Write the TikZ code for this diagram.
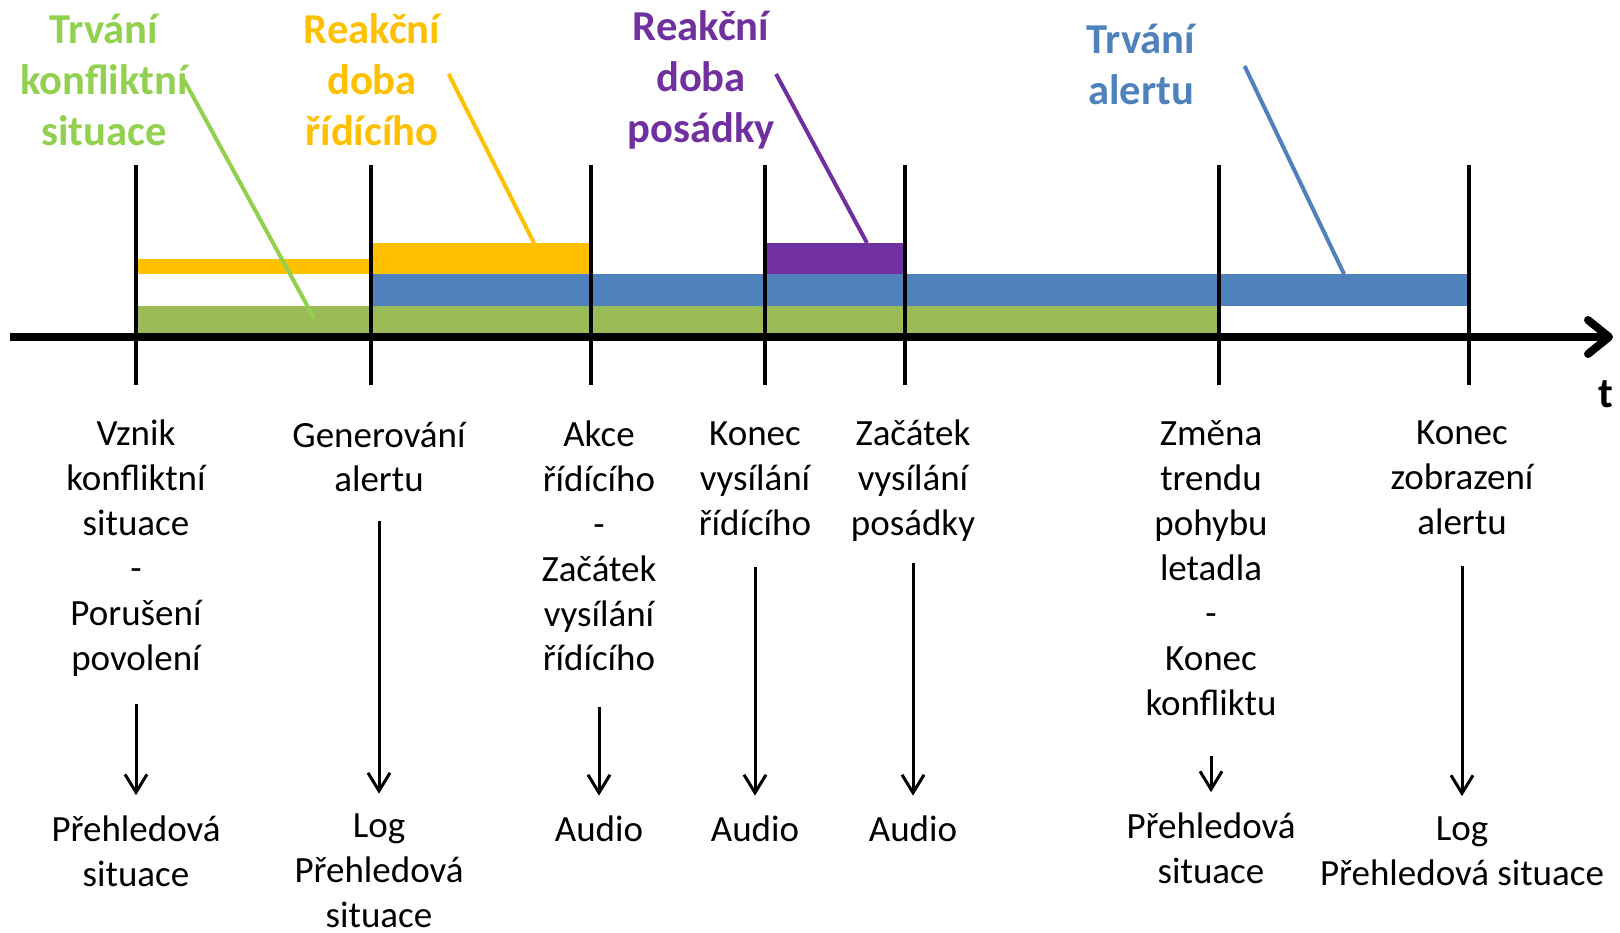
\documentclass[tikz,border=0pt]{standalone}
\usepackage{fontspec}
\setmainfont{Carlito}
\usepackage{xcolor}
\usepackage{tikz}
\usetikzlibrary{
		arrows.meta,
		positioning
	}
\definecolor{conflict-green}{HTML}{9BBB59}
\definecolor{label-green}{HTML}{92D050}
\definecolor{alert-blue}{HTML}{4F81BD}
\definecolor{atco-orange}{HTML}{FFC000}
\definecolor{crew-purple}{HTML}{7030A0}
\tikzset{%
		every text node part/.style = {
			align = center
		},
		event/.style = {
			font = \fontsize{18.5}{22.45}\selectfont,
			inner sep = 0pt
		},
		phase/.style = {
			font = \fontsize{21.3}{25.5}\selectfont\bfseries,
			inner sep = 0pt
		},
		timemark/.style = {
			line width = 2pt
		},
		leader/.style = {
			line width = 2pt
		},
		outarrow/.style = {
			-{Straight Barb[length=9pt,width=11pt]},
			line width = 1.5pt,
			shorten > = 10pt
		}
	}

\begin{document}
\begin{tikzpicture}[x=0.5pt, y=-0.5pt]
		\useasboundingbox (0, 0) rectangle (1620, 932);

		% bars
		\fill [conflict-green] (136, 306) rectangle (1219, 333);
		\fill [alert-blue] (371, 274) rectangle (1469, 306);
		\fill [atco-orange] (136, 259) rectangle (371, 274);
		\fill [atco-orange] (371, 243) rectangle (591, 274);
		\fill [crew-purple] (765, 243) rectangle (905, 274);

		% time axis
		\coordinate (axisstart) at (10, 337);
		\coordinate (axisend) at (1613, 337);
		\draw [
			line width = 4pt,
			-{Straight Barb[length=10.5pt,width=17pt,round]}
		] (axisstart) -- (axisend);
		\node [phase] (timelabel) at (1606, 394) {t};

		\foreach \x in {136, 371, 591, 765, 905, 1219, 1469}
			\draw [timemark] (\x, 165) -- (\x, 385);

		% phase labels
		\node [phase, text = label-green] (greenlabel) at (104, 80) {Trvání\\konfliktní\\situace};
		\node [phase, text = atco-orange] (orangelabel) at (372, 80) {Reakční\\doba\\řídícího};
		\node [phase, text = crew-purple] (purplelabel) at (701, 80) {Reakční\\doba\\posádky};
		\node [phase, text = alert-blue] (bluelabel) at (1141, 64) {Trvání\\alertu};

		\coordinate (greenbar) at (314, 318);
		\coordinate (orangebar) at (534, 243);
		\coordinate (purplebar) at (867, 243);
		\coordinate (bluebar) at (1344, 274);

		\draw [leader, label-green] ([xshift=-2pt]greenlabel.east) -- (greenbar);
		\draw [leader, atco-orange] ([xshift=4pt, yshift=3pt]orangelabel.east) -- (orangebar);
		\draw [leader, crew-purple] ([xshift=0.5pt, yshift=3pt]purplelabel.east) -- (purplebar);
		\draw [leader, alert-blue] ([xshift=24.5pt, yshift=-1pt]bluelabel.east) -- (bluebar);

		% events
		\node [event] (ev1) at (136, 548) {Vznik\\konfliktní\\situace\\-\\Porušení\\povolení};
		\node [event] (ev2) at (379, 457) {Generování\\alertu};
		\node [event] (ev3) at (599, 546) {Akce\\řídícího\\-\\Začátek\\vysílání\\řídícího};
		\node [event] (ev4) at (755, 479) {Konec\\vysílání\\řídícího};
		\node [event] (ev5) at (913, 481) {Začátek\\vysílání\\posádky};
		\node [event] (ev6) at (1211, 568) {Změna\\trendu\\pohybu\\letadla\\-\\Konec\\konfliktu};
		\node [event] (ev7) at (1462, 478) {Konec\\zobrazení\\alertu};

		% outputs
		\node [event] (out1) at (136, 851) {Přehledová\\situace};
		\node [event] (out2) at (379, 871) {Log\\Přehledová\\situace};
		\node [event] (out3) at (599, 829) {Audio};
		\node [event] (out4) at (755, 829) {Audio};
		\node [event] (out5) at (913, 829) {Audio};
		\node [event] (out6) at (1211, 848) {Přehledová\\situace};
		\node [event] (out7) at (1462, 851) {Log\\Přehledová situace};

		\foreach \i/\gap in {1/14, 2/14, 3/17.5, 4/15.5, 5/10.5, 6/20, 7/15.5}
			\draw [outarrow, shorten < = \gap pt] (ev\i.south) -- (ev\i.south |- out\i.north);
	\end{tikzpicture}
\end{document}
